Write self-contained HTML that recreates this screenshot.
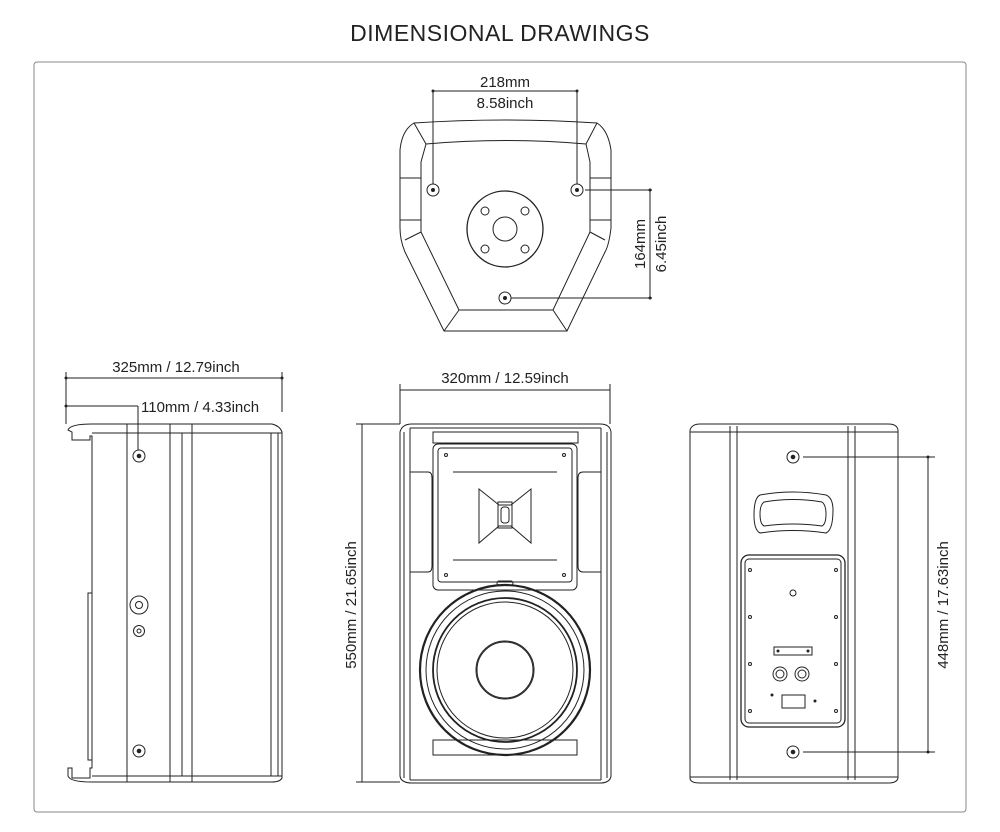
<!DOCTYPE html>
<html><head><meta charset="utf-8"><style>
html,body{margin:0;padding:0;background:#fff;width:1000px;height:832px;overflow:hidden}
svg{display:block}
text{font-family:"Liberation Sans",sans-serif;fill:#222}
</style></head><body>
<svg width="1000" height="832" viewBox="0 0 1000 832" xmlns="http://www.w3.org/2000/svg">
<text x="500" y="41" font-size="23" text-anchor="middle" letter-spacing="0.5">DIMENSIONAL DRAWINGS</text>
<rect x="34" y="62" width="932" height="750" rx="3" fill="none" stroke="#888" stroke-width="1"/>
<g fill="none" stroke="#222" stroke-width="1">
<!-- TOP VIEW -->
<path d="M414,123 Q505,117 597,123 Q608,130 611,150 L611,228 Q609,245 605,252 L567,331 L444,331 L405,252 Q400,240 400,228 L400,150 Q402,130 414,123 Z"/>
<path d="M426,144 Q505,137 586,144 L590,162 L590,232 L553,310 L459,310 L421,232 L421,162 Z"/>
<line x1="414" y1="123" x2="426" y2="144"/><line x1="597" y1="123" x2="586" y2="144"/>
<line x1="400" y1="178" x2="421" y2="178"/><line x1="400" y1="220" x2="421" y2="220"/>
<line x1="611" y1="178" x2="590" y2="178"/><line x1="611" y1="220" x2="590" y2="220"/>
<line x1="405" y1="240" x2="421" y2="232"/><line x1="605" y1="240" x2="590" y2="232"/>
<line x1="444" y1="331" x2="459" y2="310"/><line x1="567" y1="331" x2="553" y2="310"/>
<circle cx="433" cy="190" r="6"/><circle cx="433" cy="190" r="1.5" fill="#222"/>
<circle cx="577" cy="190" r="6"/><circle cx="577" cy="190" r="1.5" fill="#222"/>
<circle cx="505" cy="298" r="6"/><circle cx="505" cy="298" r="1.5" fill="#222"/>
<circle cx="505" cy="229" r="38" stroke-width="1.3"/><circle cx="505" cy="229" r="12"/>
<circle cx="485" cy="211" r="4"/><circle cx="525" cy="211" r="4"/><circle cx="485" cy="249" r="4"/><circle cx="525" cy="249" r="4"/>
<!-- top dims -->
<line x1="433" y1="91" x2="577" y2="91"/><line x1="433" y1="91" x2="433" y2="184"/><line x1="577" y1="91" x2="577" y2="184"/>
<line x1="585" y1="190" x2="652" y2="190"/><line x1="511" y1="298" x2="652" y2="298"/><line x1="650" y1="190" x2="650" y2="298"/>
<!-- SIDE VIEW -->
<line x1="66" y1="378" x2="282" y2="378"/><line x1="66" y1="372" x2="66" y2="424"/><line x1="282" y1="372" x2="282" y2="412"/>
<line x1="66" y1="406" x2="138" y2="406"/><line x1="138" y1="406" x2="138" y2="450"/>
<path d="M68,430 Q70,424 92,424 L272,424 Q280,426 282,432 L282,778 Q280,782 272,782 L92,782 Q70,782 68,776 L68,768 L72,768 L72,778 L90,778 L90,768 L92,768 L92,436 L90,436 L90,440 L72,440 L72,432 Z"/>
<line x1="92" y1="433" x2="282" y2="433"/><line x1="92" y1="776" x2="282" y2="776"/>
<line x1="127" y1="424" x2="127" y2="782"/><line x1="170" y1="424" x2="170" y2="782"/>
<line x1="182" y1="433" x2="182" y2="776"/><line x1="192" y1="424" x2="192" y2="782"/>
<line x1="271" y1="433" x2="271" y2="776"/><line x1="278" y1="433" x2="278" y2="776"/>
<path d="M92,593 L88,593 L88,760 L92,760"/>
<circle cx="139" cy="456" r="6"/><circle cx="139" cy="456" r="1.8" fill="#222"/>
<circle cx="139" cy="605" r="9"/><circle cx="139" cy="605" r="3.5"/>
<circle cx="139" cy="631" r="5.5"/><circle cx="139" cy="631" r="2"/>
<circle cx="139" cy="751" r="6"/><circle cx="139" cy="751" r="1.8" fill="#222"/>
<!-- FRONT VIEW -->
<line x1="400" y1="390" x2="610" y2="390"/><line x1="400" y1="384" x2="400" y2="424"/><line x1="610" y1="384" x2="610" y2="424"/>
<line x1="362" y1="424" x2="362" y2="782"/><line x1="356" y1="424" x2="400" y2="424"/><line x1="356" y1="782" x2="400" y2="782"/>
<path d="M400,432 Q402,424 412,424 L600,424 Q610,424 611,432 L611,776 Q610,783 600,783 L412,783 Q401,783 400,776 Z"/>
<line x1="404" y1="432" x2="404" y2="778"/><line x1="410" y1="428" x2="410" y2="780"/>
<line x1="601" y1="428" x2="601" y2="780"/><line x1="607" y1="432" x2="607" y2="778"/>
<line x1="410" y1="428" x2="601" y2="428"/><line x1="410" y1="780" x2="601" y2="780"/>
<rect x="433" y="432" width="145" height="11"/>
<rect x="433" y="444" width="144" height="146" rx="5"/>
<rect x="438" y="448" width="134" height="134" rx="3"/>
<line x1="453" y1="472" x2="557" y2="472"/><line x1="453" y1="560" x2="557" y2="560"/>
<path d="M479,489 L479,543 L499,526 L511,526 L531,543 L531,489 L511,505 L499,505 Z"/>
<rect x="498" y="502" width="14" height="26"/><rect x="501" y="507" width="8" height="16" rx="3"/>
<path d="M410,472 L428,472 Q432,472 432,478 L432,566 Q432,572 428,572 L410,572"/>
<path d="M601,472 L583,472 Q578,472 578,478 L578,566 Q578,572 583,572 L601,572"/>
<rect x="497" y="581" width="16" height="4" rx="2"/>
<circle cx="446" cy="455" r="1.5"/><circle cx="564" cy="455" r="1.5"/><circle cx="446" cy="575" r="1.5"/><circle cx="564" cy="575" r="1.5"/>
<circle cx="505" cy="670" r="85" stroke-width="2.2"/>
<circle cx="505" cy="670" r="79"/><circle cx="505" cy="670" r="72" stroke-width="1.8"/><circle cx="505" cy="670" r="68"/>
<circle cx="505" cy="670" r="29"/><circle cx="505" cy="670" r="28"/>
<rect x="433" y="740" width="144" height="15"/>
<!-- BACK VIEW -->
<path d="M690,430 Q692,424 700,424 L888,424 Q897,424 898,430 L898,778 Q897,783 888,783 L700,783 Q690,783 690,778 Z"/>
<line x1="690" y1="432" x2="898" y2="432"/><line x1="690" y1="777" x2="898" y2="777"/>
<line x1="730" y1="426" x2="730" y2="780"/><line x1="737" y1="426" x2="737" y2="780"/>
<line x1="848" y1="426" x2="848" y2="780"/><line x1="855" y1="426" x2="855" y2="780"/>
<circle cx="793" cy="457" r="6"/><circle cx="793" cy="457" r="1.8" fill="#222"/>
<circle cx="793" cy="752" r="6"/><circle cx="793" cy="752" r="1.8" fill="#222"/>
<path d="M760,495 Q793,489 826,495 Q833,498 833,510 Q833,530 826,533 Q793,528 760,533 Q754,530 754,515 Q754,498 760,495 Z"/>
<path d="M764,502 Q793,497 822,502 Q826,505 826,514 Q826,524 822,526 Q793,522 764,526 Q760,524 760,514 Q760,505 764,502 Z"/>
<rect x="741" y="555" width="104" height="172" rx="8" stroke-width="1.3"/>
<rect x="745" y="559" width="96" height="164" rx="4"/>
<circle cx="750" cy="570" r="1.5"/><circle cx="836" cy="570" r="1.5"/><circle cx="750" cy="617" r="1.5"/><circle cx="836" cy="617" r="1.5"/>
<circle cx="750" cy="664" r="1.5"/><circle cx="836" cy="664" r="1.5"/><circle cx="750" cy="711" r="1.5"/><circle cx="836" cy="711" r="1.5"/>
<circle cx="793" cy="593" r="3"/>
<rect x="774" y="647" width="38" height="8"/>
<circle cx="780" cy="674" r="7"/><circle cx="780" cy="674" r="4"/><circle cx="802" cy="674" r="7"/><circle cx="802" cy="674" r="4"/>
<rect x="782" y="695" width="23" height="13"/>
<line x1="803" y1="457" x2="935" y2="457"/><line x1="803" y1="752" x2="935" y2="752"/><line x1="928" y1="457" x2="928" y2="752"/>
</g>
<g fill="#222"><circle cx="433" cy="91" r="1.5"/><circle cx="577" cy="91" r="1.5"/><circle cx="650" cy="190" r="1.5"/><circle cx="650" cy="298" r="1.5"/>
<circle cx="66" cy="378" r="1.5"/><circle cx="282" cy="378" r="1.5"/><circle cx="66" cy="406" r="1.5"/>
<circle cx="928" cy="457" r="1.5"/><circle cx="928" cy="752" r="1.5"/>
<circle cx="778" cy="651" r="1.5"/><circle cx="808" cy="651" r="1.5"/><circle cx="772" cy="695" r="1.5"/><circle cx="815" cy="701" r="1.5"/></g>
<g font-size="15">
<text x="505" y="87" text-anchor="middle">218mm</text>
<text x="505" y="108" text-anchor="middle">8.58inch</text>
<text transform="translate(645,244) rotate(-90)" text-anchor="middle">164mm</text>
<text transform="translate(666,244) rotate(-90)" text-anchor="middle">6.45inch</text>
<text x="176" y="372" text-anchor="middle">325mm / 12.79inch</text>
<text x="141" y="412">110mm / 4.33inch</text>
<text x="505" y="383" text-anchor="middle">320mm / 12.59inch</text>
<text transform="translate(356,605) rotate(-90)" text-anchor="middle">550mm / 21.65inch</text>
<text transform="translate(948,605) rotate(-90)" text-anchor="middle">448mm / 17.63inch</text>
</g>
</svg>
</body></html>
